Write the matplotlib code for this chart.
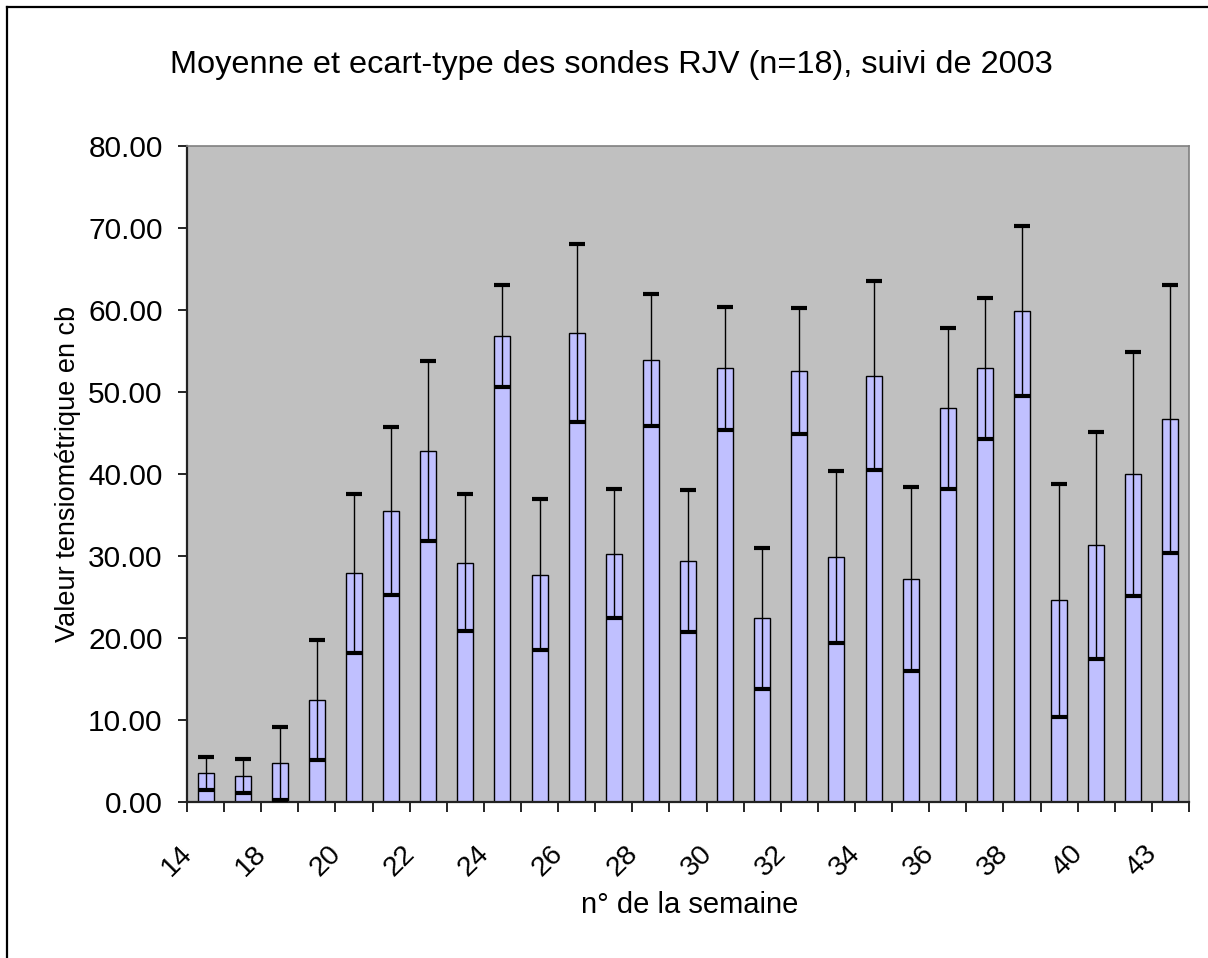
import matplotlib
matplotlib.use("Agg")
import matplotlib.pyplot as plt
import matplotlib.transforms as mtransforms
from matplotlib.lines import Line2D
from matplotlib.ticker import FormatStrFormatter

# week numbers (only every other one is labelled on the axis)
WEEKS = ["14", "16", "18", "19", "20", "21", "22", "23", "24", "25", "26", "27",
         "28", "29", "30", "31", "32", "33", "34", "35", "36", "37", "38", "39",
         "40", "42", "43"]
MEANS = [3.5, 3.2, 4.7, 12.4, 27.9, 35.5, 42.8, 29.2, 56.8, 27.7, 57.2, 30.3,
         53.9, 29.4, 52.9, 22.4, 52.6, 29.9, 52.0, 27.2, 48.0, 52.9, 59.9, 24.6,
         31.3, 40.0, 46.7]
STDS = [2.0, 2.1, 4.4, 7.3, 9.7, 10.2, 11.0, 8.3, 6.2, 9.2, 10.9, 7.9,
        8.1, 8.7, 7.5, 8.6, 7.7, 10.5, 11.5, 11.2, 9.8, 8.6, 10.4, 14.2,
        13.8, 14.9, 16.3]

TITLE = "Moyenne et ecart-type des sondes RJV (n=18), suivi de 2003"
XLABEL = "n° de la semaine"
YLABEL = "Valeur tensiométrique en cb"

W, H = 1208, 958
plt.rcParams["font.family"] = ["Liberation Sans", "DejaVu Sans"]

fig = plt.figure(figsize=(W / 100, H / 100), dpi=100)

# outer chart frame (only left and top edges visible)
fig.add_artist(Line2D([7.5 / W, 7.5 / W], [0, 1 - 6.5 / H], transform=fig.transFigure,
                      color="black", lw=1.6))
fig.add_artist(Line2D([7.5 / W, 1], [1 - 6.5 / H, 1 - 6.5 / H], transform=fig.transFigure,
                      color="black", lw=1.6))

ax = fig.add_axes([187 / W, 1 - 802 / H, (1189 - 187) / W, (802 - 146) / H])
ax.set_facecolor("#C0C0C0")

x = list(range(len(WEEKS)))
ax.bar(x, MEANS, width=0.43, color="#C0C0FF", edgecolor="black", linewidth=1.0, zorder=2)
ax.errorbar(x, MEANS, yerr=STDS, fmt="none", ecolor="black", elinewidth=1.0,
            capsize=5.6, capthick=3.0, zorder=3)

ax.set_xlim(-0.5, len(WEEKS) - 0.5)
ax.set_ylim(0, 80)
ax.set_yticks(range(0, 81, 10))
ax.yaxis.set_major_formatter(FormatStrFormatter("%.2f"))
ax.tick_params(axis="y", direction="out", length=6.5, width=1.2, pad=11, labelsize=21.5)

# labels on every other category, tick marks at category boundaries
ax.set_xticks(x[::2])
ax.set_xticklabels(WEEKS[::2], rotation=45, ha="right", va="top")
ax.tick_params(axis="x", which="major", length=0, pad=28, labelsize=20.5)
ax.set_xticks([i - 0.5 for i in range(len(WEEKS) + 1)], minor=True)
ax.tick_params(axis="x", which="minor", direction="out", length=7, width=1.2)
shift = mtransforms.ScaledTranslation(-8 / 100, 0, fig.dpi_scale_trans)
for lbl in ax.get_xticklabels():
    lbl.set_transform(lbl.get_transform() + shift)

for side in ["left", "bottom"]:
    ax.spines[side].set_color("#222222")
    ax.spines[side].set_linewidth(1.6)
for side in ["top", "right"]:
    ax.spines[side].set_color("#808080")
    ax.spines[side].set_linewidth(1.2)

ax.set_ylabel(YLABEL, fontsize=19.5, labelpad=5)
fig.text(690 / W, 1 - 905 / H, XLABEL, fontsize=21, ha="center", va="center")
fig.text(611 / W, 1 - 65 / H, TITLE, fontsize=23.4, ha="center", va="center")

fig.savefig("out.png", dpi=100, facecolor="white")
